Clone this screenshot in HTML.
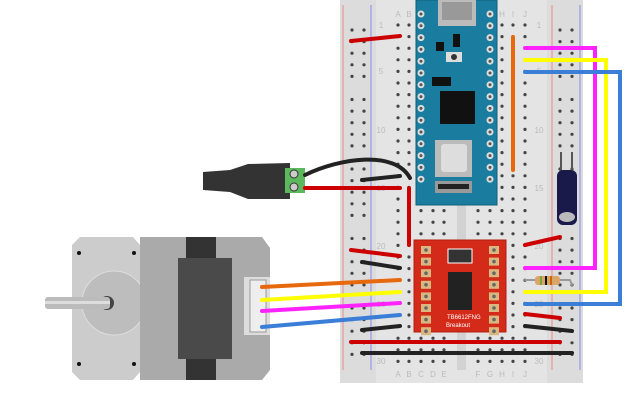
<!DOCTYPE html><html><head><style>body{margin:0;background:#fff}svg{display:block}</style></head><body>
<svg id="s" width="625" height="400" viewBox="0 0 625 400" xmlns="http://www.w3.org/2000/svg" font-family="Liberation Sans, sans-serif">
<rect x="340" y="0" width="243" height="383" fill="#e4e4e4"/>
<rect x="340" y="0" width="36" height="383" fill="#dcdcdc"/>
<rect x="547" y="0" width="36" height="383" fill="#dcdcdc"/>
<rect x="457" y="0" width="9" height="370" fill="#d2d2d2"/>
<line x1="343" y1="5" x2="343" y2="370" stroke="#e88" stroke-width="1"/>
<line x1="371" y1="5" x2="371" y2="370" stroke="#88e" stroke-width="1"/>
<line x1="552" y1="5" x2="552" y2="370" stroke="#e88" stroke-width="1"/>
<line x1="580" y1="5" x2="580" y2="370" stroke="#88e" stroke-width="1"/>
<g id="holes" fill="#444"></g>
<g font-size="8" fill="#bbb" id="lbl"></g>
<!-- Arduino -->
<rect x="416" y="0" width="81" height="205" fill="#1a7c9e" stroke="#0e5f7a"/>
<rect x="438" y="0" width="38" height="26" fill="#bbb"/><rect x="442" y="2" width="30" height="18" fill="#999"/>
<rect x="446" y="52" width="16" height="10" fill="#ddd"/><circle cx="454" cy="57" r="3" fill="#333"/>
<rect x="436" y="42" width="8" height="9" fill="#111"/><rect x="432" y="77" width="19" height="9" fill="#111"/>
<rect x="453" y="34" width="7" height="13" fill="#111"/>
<rect x="440" y="91" width="35" height="33" fill="#111"/>
<rect x="435" y="140" width="37" height="37" fill="#bbb"/><rect x="441" y="144" width="26" height="28" fill="#ddd" rx="3"/>
<rect x="435" y="181" width="37" height="12" fill="#999"/><rect x="438" y="184" width="31" height="5" fill="#222"/>
<g id="apins" fill="#e0c070"></g>
<!-- driver -->
<rect x="414" y="240" width="92" height="92" fill="#d42a1a" stroke="#b02010"/>
<rect x="448" y="249" width="24" height="14" fill="#333" stroke="#fff"/>
<rect x="448" y="272" width="24" height="38" fill="#222"/>
<text x="447" y="319" font-size="6" fill="#fff">TB6612FNG</text><text x="446" y="327" font-size="6" fill="#fff">Breakout</text>
<g id="dpins"></g>
<!-- jack -->
<path d="M203 172 L230 170 L248 164 L290 163 L290 199 L248 199 L230 192 L203 190Z" fill="#333"/>
<rect x="285" y="168" width="20" height="25" fill="#5cb85c"/>
<circle cx="294" cy="174" r="4" fill="#ccc" stroke="#333"/><circle cx="294" cy="187" r="4" fill="#ccc" stroke="#333"/>
<!-- motor -->
<path d="M80 237 L133 237 L140 245 L140 372 L133 380 L80 380 L72 372 L72 245Z" fill="#ccc"/>
<circle cx="114" cy="303" r="32" fill="#bdbdbd" stroke="#ddd"/>
<circle cx="107" cy="303" r="7" fill="#444"/>
<rect x="45" y="297" width="65" height="12" rx="3" fill="#bbb"/><rect x="45" y="301" width="65" height="3" fill="#ddd"/>
<circle cx="79" cy="253" r="2" fill="#111"/><circle cx="134" cy="253" r="2" fill="#111"/><circle cx="79" cy="364" r="2" fill="#111"/><circle cx="134" cy="364" r="2" fill="#111"/>
<path d="M140 237 L262 237 L270 248 L270 370 L262 380 L140 380Z" fill="#aaa"/>
<rect x="186" y="237" width="30" height="143" fill="#333"/>
<rect x="178" y="258" width="54" height="101" fill="#4a4a4a"/>
<rect x="244" y="277" width="26" height="58" fill="#ddd"/><rect x="250" y="280" width="16" height="52" fill="#eee" stroke="#999"/>
<!-- wires -->
<g fill="none" stroke-width="4" stroke-linecap="round">
<path d="M305 175 C340 158 395 150 410 178" stroke="#222"/>
<line x1="362" y1="180" x2="400" y2="176" stroke="#222"/>
<line x1="305" y1="188" x2="400" y2="188" stroke="#c00"/>
<line x1="409" y1="188" x2="409" y2="245" stroke="#c00"/>
<line x1="351" y1="41" x2="400" y2="36" stroke="#c00"/>
<line x1="513" y1="37" x2="513" y2="170" stroke="#e8680e"/>
<path d="M525 48 H595 V268 H525" stroke="#f2f"/>
<path d="M525 60 H606 V292 H525" stroke="#ff0"/>
<path d="M525 72 H620 V304 H525" stroke="#3a7ed8"/>
<line x1="351" y1="250" x2="400" y2="256" stroke="#c00"/>
<line x1="362" y1="262" x2="400" y2="268" stroke="#222"/>
<line x1="262" y1="287" x2="400" y2="280" stroke="#e8680e"/>
<line x1="262" y1="300" x2="400" y2="292" stroke="#ff0"/>
<line x1="262" y1="311" x2="400" y2="303" stroke="#f2f"/>
<line x1="262" y1="327" x2="400" y2="315" stroke="#3a7ed8"/>
<line x1="362" y1="330" x2="400" y2="326" stroke="#222"/>
<line x1="525" y1="245" x2="560" y2="237" stroke="#c00"/>
<line x1="525" y1="314" x2="560" y2="318" stroke="#c00"/>
<line x1="525" y1="326" x2="572" y2="331" stroke="#222"/>
<line x1="351" y1="342" x2="560" y2="342" stroke="#c00"/>
<line x1="362" y1="353" x2="572" y2="353" stroke="#222"/>
<path d="M525 280 H570 L572 285" stroke="#999" stroke-width="2"/>
</g>
<rect x="535" y="276" width="25" height="9" rx="3" fill="#d9a56a"/>
<rect x="540" y="276" width="2" height="9" fill="#7a3"/><rect x="545" y="276" width="2" height="9" fill="#111"/><rect x="550" y="276" width="2" height="9" fill="#c60"/>
<line x1="561" y1="152" x2="561" y2="175" stroke="#555" stroke-width="2"/><line x1="572" y1="152" x2="572" y2="175" stroke="#555" stroke-width="2"/>
<rect x="557" y="170" width="20" height="55" rx="6" fill="#1a1a4a"/><ellipse cx="567" cy="217" rx="8" ry="5" fill="#bbb"/>
</svg>
<script>
var N="http://www.w3.org/2000/svg",h=document.getElementById('holes'),l=document.getElementById('lbl');
function c(g,x,y,r,f){var e=document.createElementNS(N,'circle');e.setAttribute('cx',x);e.setAttribute('cy',y);e.setAttribute('r',r);if(f)e.setAttribute('fill',f);g.appendChild(e);}
function t(x,y,s){var e=document.createElementNS(N,'text');e.setAttribute('x',x);e.setAttribute('y',y);e.setAttribute('text-anchor','middle');e.textContent=s;l.appendChild(e);}
var cols=[398,409,421,433,444,478,490,502,513,525],L="ABCDEFGHIJ";
for(var r=0;r<30;r++){var y=25+r*11.6;cols.forEach(function(x){c(h,x,y,1.6);});}
for(var g=0;g<5;g++)for(var k=0;k<5;k++){var y=30+g*69.5+k*11.6;if(y>365)continue;[352,364,560,572].forEach(function(x){c(h,x,y,1.6);});}
cols.forEach(function(x,i){t(x,17,L[i]);t(x,377,L[i]);});
[[1,25],[5,71],[10,130],[15,188],[20,246],[25,304],[30,361]].forEach(function(p){t(381,p[1]+3,p[0]);t(539,p[1]+3,p[0]);});
var a=document.getElementById('apins');for(var i=0;i<15;i++){c(a,421,14+i*11.8,3.5,'#ddd');c(a,490,14+i*11.8,3.5,'#ddd');c(a,421,14+i*11.8,1.5,'#555');c(a,490,14+i*11.8,1.5,'#555');}
var d=document.getElementById('dpins');for(var i=0;i<8;i++){var y=250+i*11.6;[426,494].forEach(function(x){var e=document.createElementNS(N,'rect');e.setAttribute('x',x-5);e.setAttribute('y',y-4);e.setAttribute('width',10);e.setAttribute('height',8);e.setAttribute('fill','#d8b880');d.appendChild(e);c(d,x,y,1.8,'#666');});}
</script>
</body></html>
